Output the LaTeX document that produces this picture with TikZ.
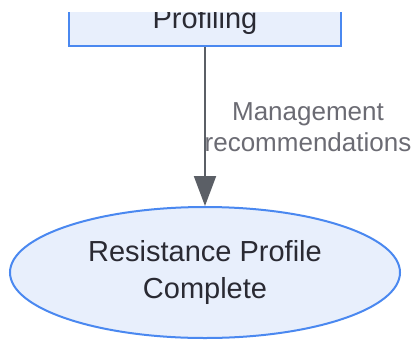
\documentclass[tikz,border=0pt]{standalone}
\usepackage{fontspec}
\setmainfont{Liberation Sans}
\usetikzlibrary{arrows.meta,shapes.geometric}
\definecolor{nodefill}{HTML}{E8EFFC}
\definecolor{nodeborder}{HTML}{4A88F0}
\definecolor{nodetext}{HTML}{2A2A33}
\definecolor{labeltext}{HTML}{6B6B73}
\definecolor{edgecol}{HTML}{5B5F66}
\tikzset{
  box/.style={draw=nodeborder, fill=nodefill, line width=2pt, rectangle, inner sep=0pt},
  endnode/.style={draw=nodeborder, fill=nodefill, line width=2pt, ellipse, inner sep=0pt,
    minimum width=390pt, minimum height=131pt, align=center, text=nodetext,
    font=\fontsize{29}{37}\selectfont},
  boxtext/.style={text=nodetext, inner sep=0pt, font=\fontsize{29}{35}\selectfont},
  edgelabel/.style={text=labeltext, align=center, inner sep=0pt, font=\fontsize{26}{31}\selectfont},
  flow/.style={draw=edgecol, line width=2pt, -{Triangle[length=30pt,width=22pt]}}
}
\begin{document}
\begin{tikzpicture}[x=1pt,y=-1pt]
\useasboundingbox (0,0) rectangle (415,341);
\begin{scope}
  \clip (0,12) rectangle (415,341);
  \node[box, minimum width=272pt, minimum height=80pt, anchor=south] (prof) at (205,47) {};
  \node[boxtext, anchor=base] (proftext) at (205,28) {Profiling};
\end{scope}
\node[endnode] (done) at (205,272.5) {Resistance Profile\\Complete};
\node[edgelabel] (lbl) at (308,127) {Management\\recommendations};
\draw[flow] (prof.south) -- (done.north);
\end{tikzpicture}
\end{document}
